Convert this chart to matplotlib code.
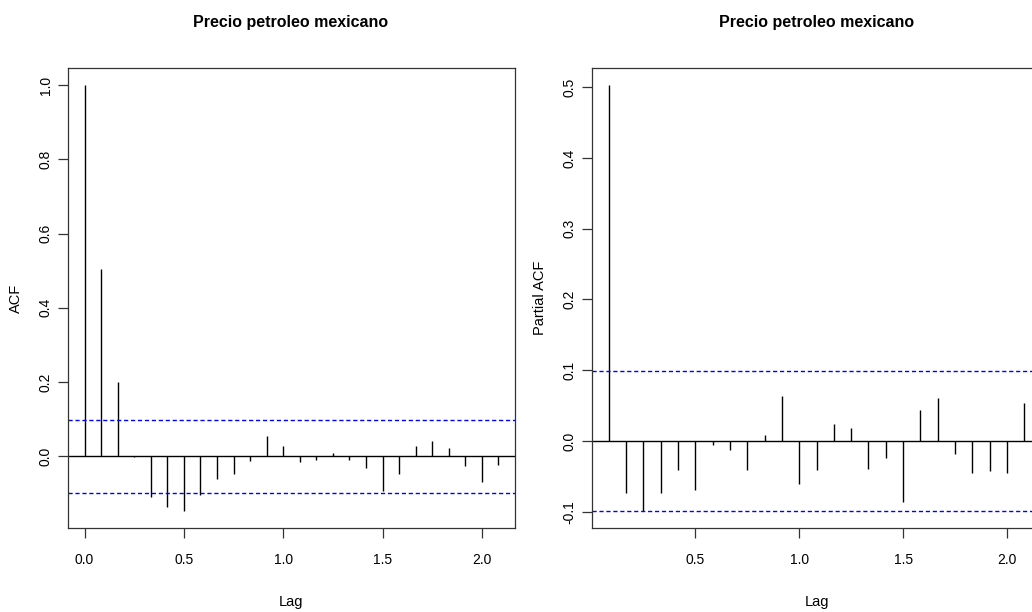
import numpy as np
import matplotlib
matplotlib.use("Agg")
import matplotlib.pyplot as plt

# ACF values, lags 0..25 (monthly series, lag in years)
acf_vals = [1.0, 0.505, 0.200, -0.003, -0.110, -0.135, -0.147, -0.105, -0.061,
            -0.047, -0.013, 0.056, 0.027, -0.016, -0.011, 0.010, -0.011, -0.032,
            -0.093, -0.047, 0.027, 0.042, 0.022, -0.027, -0.070, -0.024]
# PACF values, lags 1..25
pacf_vals = [0.503, -0.073, -0.099, -0.073, -0.041, -0.069, -0.006, -0.013,
             -0.041, 0.008, 0.063, -0.061, -0.041, 0.024, 0.018, -0.039, -0.024,
             -0.086, 0.044, 0.061, -0.018, -0.046, -0.043, -0.046, 0.054]
conf = 0.0985
freq = 12
title = "Precio petroleo mexicano"

plain = ["Liberation Sans", "DejaVu Sans"]

W, H = 1032, 612
fig = plt.figure(figsize=(W / 100, H / 100), dpi=100)


def r_axes(px):
    l, t, r, b = px
    return fig.add_axes([l / W, 1 - b / H, (r - l) / W, (b - t) / H])


def pad_lim(lo, hi):
    d = (hi - lo) * 0.04
    return lo - d, hi + d


def style(ax, cx, ylabel, ylab_x, xticks, yticks):
    for s in ax.spines.values():
        s.set_linewidth(0.9)
        s.set_color("#333333")
    ax.set_xticks(xticks)
    ax.set_xticklabels(["%.1f" % v for v in xticks], family=plain, fontsize=10)
    ax.set_yticks(yticks)
    ax.set_yticklabels(["%.1f" % v for v in yticks], family=plain, fontsize=10,
                       rotation=90, va="center")
    ax.tick_params(axis="x", length=7, width=0.9, pad=11, color="#333333")
    ax.tick_params(axis="y", length=7, width=0.9, pad=4, color="#333333")
    fig.text(cx / W, 1 - 22 / H, title, family=plain, fontweight="bold",
             fontsize=11.5, ha="center", va="center")
    fig.text(cx / W, 1 - 602 / H, "Lag", family=plain, fontsize=10.5,
             ha="center", va="center")
    fig.text(ylab_x / W, 1 - 298 / H, ylabel, family=plain, fontsize=10.5,
             ha="center", va="center", rotation=90)


# left: ACF
lags = np.arange(len(acf_vals)) / freq
ax1 = r_axes((68, 68, 515, 528))
ax1.vlines(lags, 0, acf_vals, color="black", lw=1)
ax1.axhline(0, color="black", lw=1)
ax1.axhline(conf, color="blue", lw=1, ls=(0, (3, 2)))
ax1.axhline(-conf, color="blue", lw=1, ls=(0, (3, 2)))
ax1.set_xlim(*pad_lim(lags.min(), lags.max()))
ax1.set_ylim(*pad_lim(min(min(acf_vals), -conf), max(acf_vals)))
style(ax1, 291, "ACF", 16, [0.0, 0.5, 1.0, 1.5, 2.0],
      [0.0, 0.2, 0.4, 0.6, 0.8, 1.0])

# right: PACF (runs past the right edge, as in the reference)
plags = np.arange(1, len(pacf_vals) + 1) / freq
ax2 = r_axes((592, 68, 1041, 528))
ax2.vlines(plags, 0, pacf_vals, color="black", lw=1)
ax2.axhline(0, color="black", lw=1)
ax2.axhline(conf, color="blue", lw=1, ls=(0, (3, 2)))
ax2.axhline(-conf, color="blue", lw=1, ls=(0, (3, 2)))
ax2.set_xlim(*pad_lim(plags.min(), plags.max()))
ax2.set_ylim(*pad_lim(min(min(pacf_vals), -conf), max(pacf_vals)))
style(ax2, 817, "Partial ACF", 540, [0.5, 1.0, 1.5, 2.0],
      [-0.1, 0.0, 0.1, 0.2, 0.3, 0.4, 0.5])

fig.savefig("out.png", dpi=100)
